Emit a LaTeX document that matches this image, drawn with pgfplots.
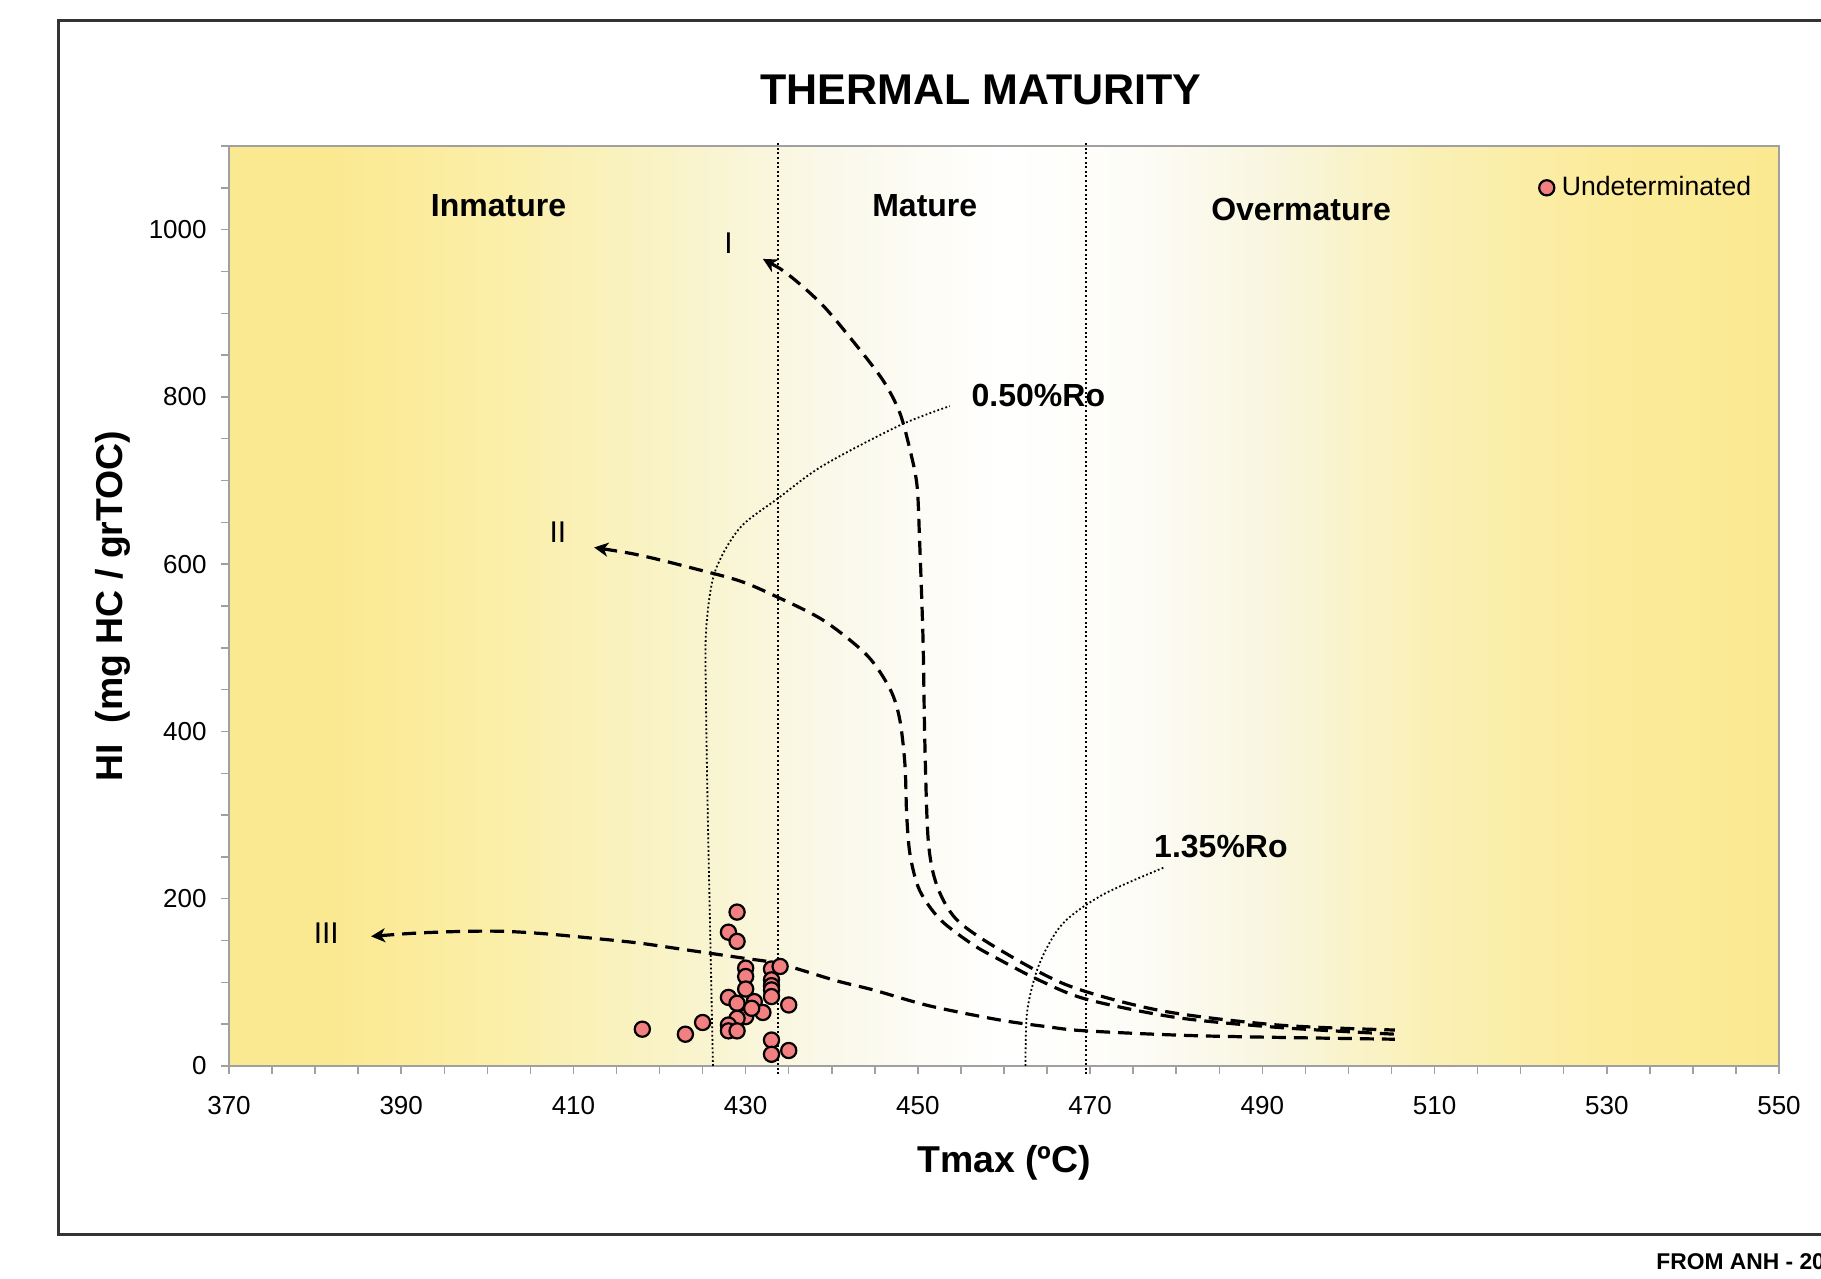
\documentclass[border=0pt]{standalone}
\usepackage{fontspec}
\setmainfont{Liberation Sans}
\usepackage{graphicx}
\usepackage{pgfplots}
\usepackage{pgfplotstable}
\pgfplotsset{compat=1.18}
\usetikzlibrary{arrows.meta}

\definecolor{yel}{RGB}{251,233,145}
\definecolor{yelA}{RGB}{251,238,166}
\definecolor{yelB}{RGB}{249,243,198}
\definecolor{yelC}{RGB}{250,248,234}
\definecolor{yelD}{RGB}{253,252,247}
\definecolor{yelE}{RGB}{249,246,225}
\definecolor{yelF}{RGB}{250,240,180}
\definecolor{yelG}{RGB}{251,235,155}
\definecolor{axisgray}{RGB}{160,160,160}
\definecolor{ptfill}{RGB}{242,128,128}
\definecolor{bordercol}{RGB}{51,51,51}

\pgfdeclarehorizontalshading{maturity}{100bp}{color(0bp)=(yel); color(25bp)=(yel); color(28.3bp)=(yel); color(33.3bp)=(yelA); color(38.9bp)=(yelB); color(44.4bp)=(yelC); color(50bp)=(white); color(54.2bp)=(yelD); color(58.3bp)=(yelE); color(63.9bp)=(yelF); color(69.4bp)=(yelG); color(75bp)=(yel); color(100bp)=(yel)}

\tikzset{
  typecurve/.style={black, line width=1.6pt, dash pattern=on 7pt off 4pt, smooth, tension=0.5},
  dotline/.style={black, line width=1pt, dash pattern=on 1pt off 1.3pt},
  roline/.style={black, line width=0.9pt, dash pattern=on 0.9pt off 1.2pt, smooth, tension=0.5},
}

\pgfplotstableread{
T HI
429 184
428 160
429 149
430 117
430 107
430 92
430 59
433 116
433 103
433 96
433 91
433 83
434 119
428 82
429 75
431 77
435 73
432 64
430.7 69
429 57
428 49
428 42
429 42
425 52
423 38
418 44
433 31
433 14
435 18.5
}\pts

\begin{document}
\begin{tikzpicture}
\draw[line width=1.5pt, color=bordercol] (29pt,22pt) rectangle (935pt,629pt);
\begin{axis}[
  at={(114.5pt,106.5pt)}, anchor=south west,
  scale only axis, width=775pt, height=460pt,
  xmin=370, xmax=550, ymin=0, ymax=1100,
  xtick={370,390,...,550}, ytick={0,200,...,1000},
  minor xtick={370,375,...,550}, minor ytick={0,50,...,1100},
  tick align=outside, tick pos=left,
  major tick length=4pt, minor tick length=4pt,
  every tick/.style={axisgray, line width=0.75pt},
  axis line style={axisgray, line width=0.75pt},
  /pgf/number format/assume math mode=true,
  /pgf/number format/1000 sep={},
  tick label style={font=\fontsize{13}{15}\selectfont, inner sep=0pt},
  xticklabel shift=11pt, yticklabel shift=7pt,
  axis background/.style={shade, shading=maturity},
  clip=false,
  title={THERMAL MATURITY},
  title style={at={([yshift=21.9pt]axis description cs:0.4852,1)}, anchor=center, font=\bfseries\fontsize{21.5}{25}\selectfont},
  xlabel={Tmax (ºC)}, ylabel={HI\ \ (mg HC / grTOC)},
  every axis x label/.style={at={([yshift=-48.5pt]axis description cs:0.5,0)}, anchor=center, font=\bfseries\fontsize{18.7}{22}\selectfont},
  every axis y label/.style={at={([xshift=-58pt]axis description cs:0,0.5)}, anchor=center, rotate=90, font=\bfseries\fontsize{18.7}{22}\selectfont},
  legend style={draw=none, fill=none, at={(axis cs:522.1,1050)}, anchor=west, font=\fontsize{13.3}{15}\selectfont, inner sep=0pt},
  legend cell align=left,
  legend image code/.code={\draw[#1] plot coordinates {(0pt,0pt)};},
]
% vertical maturity limits
\addplot[dotline, forget plot] coordinates {(433.8,-10) (433.8,1105)};
\addplot[dotline, forget plot] coordinates {(469.5,-10) (469.5,1105)};
% iso-reflectance lines
\addplot[roline, forget plot] coordinates {(426.2,0) (425.9,150) (425.6,300) (425.4,430) (425.4,520) (426.4,590) (429.3,643) (433.8,679) (439,718) (447.9,766) (453.7,789)};
\addplot[roline, forget plot] coordinates {(462.5,0) (462.7,66) (464.1,122) (466.8,170) (471.5,205) (478.5,237)};
% kerogen type curves
\addplot[typecurve, {Stealth[length=7pt,width=7pt,inset=2pt]}-, forget plot] coordinates {(432.0,965) (435.1,945) (439.0,909) (442.9,861) (446.0,819) (447.9,781) (449.1,736) (449.9,694) (450.2,628) (450.6,509) (450.8,390) (451.2,270) (452.2,216) (454.5,175) (459.5,139) (467.5,96) (478.3,66) (491.8,49) (505.4,43)};
\addplot[typecurve, {Stealth[length=7pt,width=7pt,inset=2pt]}-, forget plot] coordinates {(412.4,620) (418,610) (424.3,594) (429.3,580) (433.2,563) (439.0,533) (444.1,491) (446.8,450) (447.9,414) (448.5,360) (448.7,300) (449.1,252) (450.2,210) (452.6,175) (456.4,145) (459.5,127) (464,103) (469.5,80) (480,58) (492,46) (505.4,38)};
\addplot[typecurve, {Stealth[length=7pt,width=7pt,inset=2pt]}-, forget plot] coordinates {(386.5,155) (392,159) (397.4,161) (402,161) (406.8,158) (412,153) (417.6,147) (423,139) (429.7,129) (434,122) (440.5,102) (444.8,91) (451.3,72) (459.5,55) (465,47) (469.5,42) (483,36) (505.4,32)};
% samples
\addplot[only marks, mark=*, mark size=3.8pt, mark options={fill=ptfill, draw=black, line width=1.1pt}] table {\pts};
\addlegendentry{\hspace{1.8pt}Undeterminated}
% labels
\node[font=\bfseries\fontsize{16}{19}\selectfont] at (axis cs:401.3,1029) {Inmature};
\node[font=\bfseries\fontsize{16}{19}\selectfont] at (axis cs:450.8,1029) {Mature};
\node[font=\bfseries\fontsize{16}{19}\selectfont] at (axis cs:494.5,1023.5) {Overmature};
\node[font=\fontsize{15}{18}\selectfont] at (axis cs:428,984) {I};
\node[font=\fontsize{15}{18}\selectfont] at (axis cs:408.2,638) {II};
\node[font=\fontsize{15}{18}\selectfont] at (axis cs:381.3,159) {III};
\node[anchor=west, inner sep=0pt, font=\bfseries\fontsize{16}{19}\selectfont] at (axis cs:456.2,801.5) {0.50\%Ro};
\node[anchor=west, inner sep=0pt, font=\bfseries\fontsize{16}{19}\selectfont] at (axis cs:477.4,263) {1.35\%Ro};
\end{axis}
\node[anchor=base west, inner sep=0pt, font=\bfseries\fontsize{11.4}{13}\selectfont] at (828pt,4.5pt) {FROM ANH - 2010};
\pgfresetboundingbox
\useasboundingbox (0pt,0pt) rectangle (910.5pt,639.5pt);
\end{tikzpicture}
\end{document}
